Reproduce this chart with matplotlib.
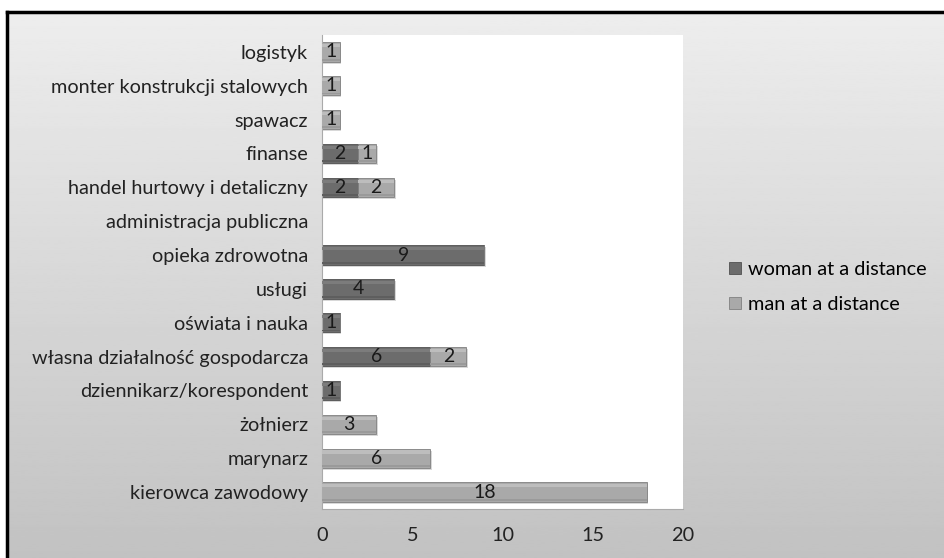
import numpy as np
import matplotlib.pyplot as plt

plt.rcParams['font.family'] = ['Lato', 'DejaVu Sans']

# categories listed bottom to top
categories = ['kierowca zawodowy', 'marynarz', 'żołnierz', 'dziennikarz/korespondent',
              'własna działalność gospodarcza', 'oświata i nauka', 'usługi',
              'opieka zdrowotna', 'administracja publiczna', 'handel hurtowy i detaliczny',
              'finanse', 'spawacz', 'monter konstrukcji stalowych', 'logistyk']
woman = [0, 0, 0, 1, 6, 1, 4, 9, 0, 2, 2, 0, 0, 0]
man = [18, 6, 3, 0, 2, 0, 0, 0, 0, 2, 1, 1, 1, 1]
series_names = ['woman at a distance', 'man at a distance']
xticks = [0, 5, 10, 15, 20]

W, H = 944, 558
fig = plt.figure(figsize=(W / 100, H / 100), dpi=100)

# gradient background with black frame on top/left
bg = fig.add_axes([7 / W, 0, 1 - 7 / W, (H - 12) / H])
grad = np.linspace(0.93, 0.76, 256).reshape(-1, 1)
bg.imshow(grad, cmap='gray', vmin=0, vmax=1, aspect='auto', extent=[0, 1, 0, 1])
bg.set_xlim(0, 1)
bg.set_ylim(0, 1)
bg.axis('off')
fig.add_artist(plt.Line2D([7 / W, 1], [(H - 12) / H, (H - 12) / H], color='black', lw=2.5))
fig.add_artist(plt.Line2D([7 / W, 7 / W], [0, (H - 12) / H], color='black', lw=2.5))

ax = fig.add_axes([322 / W, (H - 509) / H, (683 - 322) / W, (509 - 35) / H])
ax.set_facecolor('white')

y = np.arange(len(categories))
h = 0.57
c_w = '#6c6c6c'
c_m = '#a9a9a9'
woman = np.array(woman)
man = np.array(man)

# soft shadow
ax.barh(y - 0.06, woman + man, height=h, left=0.08, color='#d8d8d8', zorder=1)

bw = ax.barh(y, woman, height=h, color=c_w, edgecolor='#505050', lw=0.6, zorder=2,
             label=series_names[0])
bm = ax.barh(y, man, height=h, left=woman, color=c_m, edgecolor='#808080', lw=0.6, zorder=2,
             label=series_names[1])
# bevel highlight
ax.barh(y + h * 0.32, woman, height=h * 0.16, color='#7c7c7c', lw=0, zorder=3)
ax.barh(y + h * 0.32, man, height=h * 0.16, left=woman, color='#bdbdbd', lw=0, zorder=3)
ax.barh(y - h * 0.4, woman, height=h * 0.1, color='#5e5e5e', lw=0, zorder=3)
ax.barh(y - h * 0.4, man, height=h * 0.1, left=woman, color='#9a9a9a', lw=0, zorder=3)

for i in range(len(categories)):
    if woman[i] > 0:
        ax.text(woman[i] / 2, y[i], str(woman[i]), ha='center', va='center',
                fontsize=14, color='#1a1a1a', zorder=4)
    if man[i] > 0:
        ax.text(woman[i] + man[i] / 2, y[i], str(man[i]), ha='center', va='center',
                fontsize=14, color='#1a1a1a', zorder=4)

ax.set_xlim(0, 20)
ax.set_ylim(-0.5, len(categories) - 0.5)
ax.set_xticks(xticks)
ax.set_yticks(y)
ax.set_yticklabels(categories)
ax.tick_params(axis='both', length=0, labelsize=14.3, colors='#222222')
ax.tick_params(axis='x', pad=13)
ax.tick_params(axis='y', pad=10)
for s in ['top', 'right']:
    ax.spines[s].set_visible(False)
ax.spines['left'].set_color('#aaaaaa')
ax.spines['bottom'].set_color('#aaaaaa')

fig.legend(handles=[bw, bm], labels=series_names, loc='center left',
           bbox_to_anchor=(711 / W, (H - 287) / H), frameon=False, fontsize=14.3,
           handlelength=0.6, handleheight=0.6, handletextpad=0.35, labelspacing=0.9)

fig.savefig('out.png', dpi=100)
